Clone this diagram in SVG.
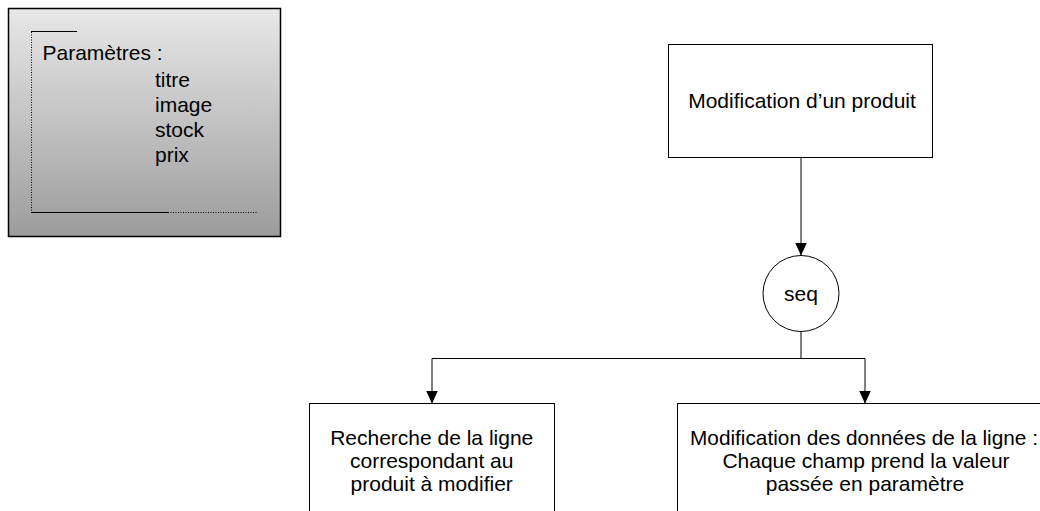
<svg xmlns="http://www.w3.org/2000/svg" width="1040" height="511" viewBox="0 0 1040 511">
  <defs>
    <linearGradient id="g" x1="0" y1="0" x2="0" y2="1">
      <stop offset="0" stop-color="#e8e8e8"/>
      <stop offset="1" stop-color="#9c9c9c"/>
    </linearGradient>
    <marker id="arr" markerWidth="14" markerHeight="12" refX="13" refY="6" orient="auto" markerUnits="userSpaceOnUse" viewBox="0 0 14 12">
      <path d="M0,0 L13,6 L0,12 Z" fill="#000"/>
    </marker>
    <style>
      .t { font-family: "Liberation Sans", Arial, sans-serif; font-size: 21px; fill: #000; }
      .c { text-anchor: middle; }
      .box { fill: #fff; stroke: #000; stroke-width: 1; }
      .ln { fill: none; stroke: #000; stroke-width: 1; }
      .dot { fill: none; stroke: #000; stroke-width: 1; stroke-dasharray: 1 1.5; }
    </style>
  </defs>
  <rect width="1040" height="511" fill="#fff"/>

  <g id="params">
    <rect x="8.5" y="8.5" width="272" height="228" fill="url(#g)" stroke="#000" stroke-width="1.5"/>
    <line class="dot" x1="31.5" y1="32" x2="31.5" y2="212"/>
    <line class="ln" x1="31" y1="31.5" x2="77" y2="31.5"/>
    <line class="ln" x1="31" y1="212.5" x2="168" y2="212.5"/>
    <line class="dot" x1="168" y1="212.5" x2="258" y2="212.5"/>
    <text class="t" x="42.5" y="60">Paramètres :</text>
    <text class="t" x="155" y="87">titre</text>
    <text class="t" x="155" y="112">image</text>
    <text class="t" x="155" y="137">stock</text>
    <text class="t" x="155" y="162">prix</text>
  </g>

  <g id="n-modif">
    <rect class="box" x="668.5" y="44.5" width="264" height="113"/>
    <text class="t c" x="802" y="108">Modification d’un produit</text>
  </g>

  <g id="n-seq">
    <circle class="box" cx="801" cy="293.5" r="38"/>
    <text class="t c" x="801" y="301">seq</text>
  </g>

  <g id="n-recherche">
    <rect class="box" x="309.5" y="403.5" width="245" height="130"/>
    <text class="t c" x="431.7" y="445">Recherche de la ligne</text>
    <text class="t c" x="431.7" y="468">correspondant au</text>
    <text class="t c" x="431.7" y="491">produit à modifier</text>
  </g>

  <g id="n-maj">
    <rect class="box" x="677.5" y="403.5" width="378" height="130"/>
    <text class="t c" x="864" y="445" textLength="348" lengthAdjust="spacingAndGlyphs">Modification des données de la ligne :</text>
    <text class="t c" x="866" y="468">Chaque champ prend la valeur</text>
    <text class="t c" x="865" y="491">passée en paramètre</text>
  </g>

  <g id="connectors">
    <line class="ln" x1="801" y1="158" x2="801" y2="255.5" marker-end="url(#arr)"/>
    <line class="ln" x1="801" y1="331.5" x2="801" y2="358.5"/>
    <line class="ln" x1="432" y1="358.5" x2="865" y2="358.5"/>
    <line class="ln" x1="432" y1="358.5" x2="432" y2="403.5" marker-end="url(#arr)"/>
    <line class="ln" x1="865" y1="358.5" x2="865" y2="403.5" marker-end="url(#arr)"/>
  </g>
</svg>
